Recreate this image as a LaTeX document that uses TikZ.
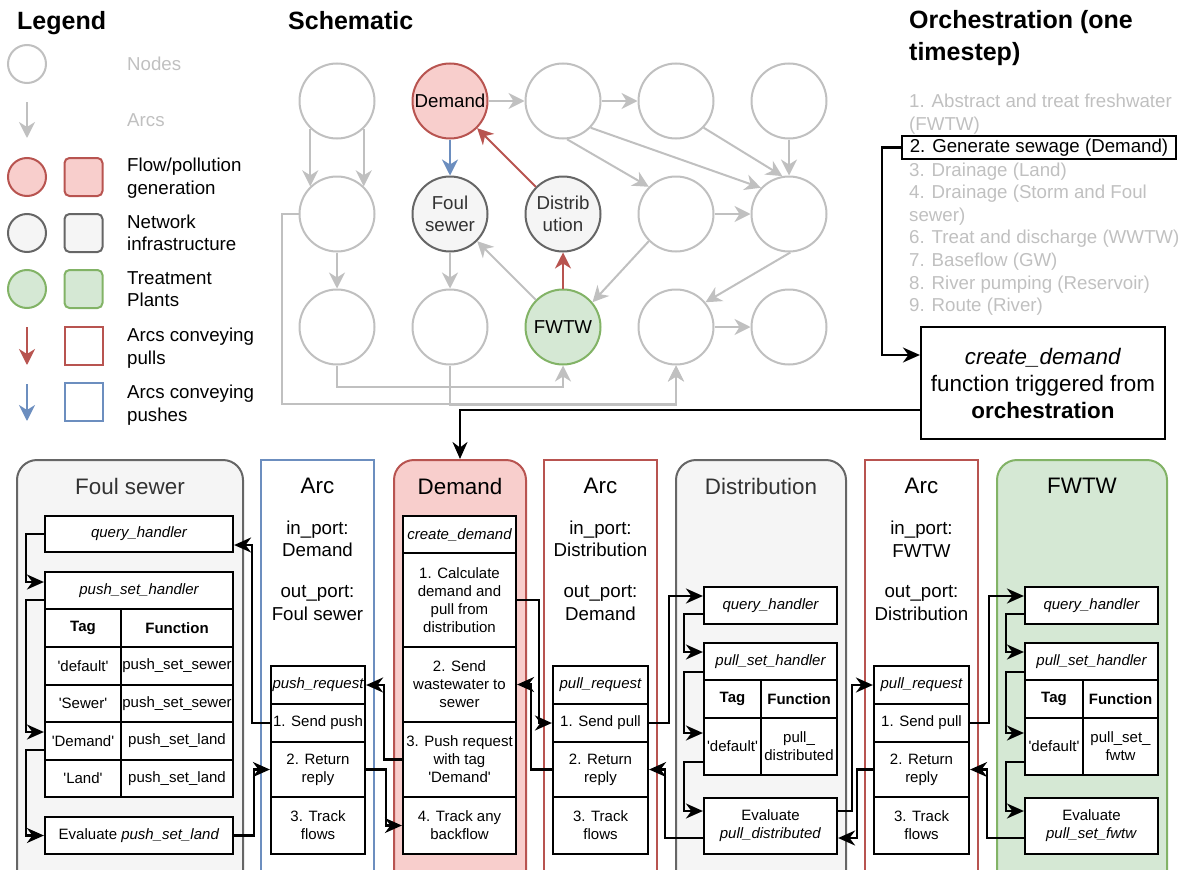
\documentclass[tikz,border=0pt]{standalone}
\usepackage{fontspec}
\setmainfont{Liberation Sans}
\usetikzlibrary{arrows.meta,calc}
\definecolor{lgray}{HTML}{C0C0C0}
\definecolor{rstroke}{HTML}{B85450}
\definecolor{rfill}{HTML}{F8CECC}
\definecolor{gstroke}{HTML}{666666}
\definecolor{gfill}{HTML}{F5F5F5}
\definecolor{gtext}{HTML}{333333}
\definecolor{vstroke}{HTML}{82B366}
\definecolor{vfill}{HTML}{D5E8D4}
\definecolor{bstroke}{HTML}{6C8EBF}
\newcommand\fBody{\fontsize{18.7pt}{22.5pt}\selectfont}
\newcommand\fHead{\fontsize{25pt}{32pt}\selectfont\bfseries}
\newcommand\fTitle{\fontsize{22.4pt}{27pt}\selectfont}
\newcommand\fSmall{\fontsize{15pt}{18pt}\selectfont}
\newcommand\sq{\textquotesingle}
\newcommand\cel[6]{\node[cell,minimum width=#4pt,minimum height=#5pt] (#1) at (#2,#3) {#6};}
\begin{document}
\begin{tikzpicture}[x=1pt,y=-1pt,
  txt/.style={inner sep=0pt,font=\fBody},
  ln/.style={inner sep=0pt,font=\fBody,text height=13.5pt,text depth=0pt,anchor=west},
  hd/.style={inner sep=0pt,font=\fHead,text height=18pt,text depth=0pt,anchor=west},
  ttl/.style={inner sep=0pt,font=\fTitle},
  snode/.style={circle,minimum size=75pt,inner sep=0pt,line width=2pt,draw=lgray,fill=white,font=\fBody,align=center},
  sred/.style={snode,draw=rstroke,fill=rfill},
  sgray/.style={snode,draw=gstroke,fill=gfill,text=gtext},
  sgreen/.style={snode,draw=vstroke,fill=vfill},
  lsq/.style={line width=2pt,minimum size=38pt,inner sep=0pt},
  tipG/.style={-{Stealth[length=16pt,width=16pt,inset=5pt]}},
  tipK/.style={-{Stealth[length=17pt,width=15pt,inset=5.5pt]}},
  garr/.style={tipG,draw=lgray,line width=2pt},
  rarr/.style={tipG,draw=rstroke,line width=2pt},
  barr/.style={tipG,draw=bstroke,line width=2pt},
  karr/.style={tipK,draw=black,line width=2.2pt},
  cell/.style={draw=black,fill=white,line width=2.2pt,font=\fSmall,align=center,inner sep=0pt},
  panel/.style={minimum height=460pt,anchor=north,line width=2pt,inner sep=0pt}
]
\path[use as bounding box] (0,0) rectangle (1189,870);
\clip (0,0) rectangle (1189,870);

% ---------------- Legend ----------------
\node[hd] (tleg) at (17,20) {Legend};
\node[snode,minimum size=38pt] (lc0) at (27,64) {};
\node[ln,text=lgray] (lt0) at (127,64) {Nodes};
\coordinate (la1) at (27,102); \coordinate (la2) at (27,138);
\draw[garr] (la1) -- (la2);
\node[ln,text=lgray] (lt1) at (127,120) {Arcs};
\node[sred,minimum size=38pt] (lc1) at (27,177) {};
\node[lsq,draw=rstroke,fill=rfill,rounded corners=5pt] (ls1) at (83.5,177) {};
\node[txt,anchor=west,align=left] (lt2) at (127,178) {Flow/pollution\\generation};
\node[sgray,minimum size=38pt] (lc2) at (27,233) {};
\node[lsq,draw=gstroke,fill=gfill,rounded corners=5pt] (ls2) at (83.5,233) {};
\node[txt,anchor=west,align=left] (lt3) at (127,233) {Network\\infrastructure};
\node[sgreen,minimum size=38pt] (lc3) at (27,289) {};
\node[lsq,draw=vstroke,fill=vfill,rounded corners=5pt] (ls3) at (83.5,289) {};
\node[txt,anchor=west,align=left] (lt4) at (127,289) {Treatment\\Plants};
\coordinate (lr1) at (27,327); \coordinate (lr2) at (27,365);
\draw[rarr] (lr1) -- (lr2);
\node[lsq,draw=rstroke,fill=white] (ls4) at (83.5,346) {};
\node[txt,anchor=west,align=left] (lt5) at (127,348) {Arcs conveying\\pulls};
\coordinate (lb1) at (27,384); \coordinate (lb2) at (27,421);
\draw[barr] (lb1) -- (lb2);
\node[lsq,draw=bstroke,fill=white] (ls5) at (83.5,402) {};
\node[txt,anchor=west,align=left] (lt6) at (127,405) {Arcs conveying\\pushes};

% ---------------- Schematic ----------------
\node[hd] (tsch) at (288,20) {Schematic};
\node[snode] (n11) at (337,101) {};
\node[sred] (sdem) at (450,101) {Demand};
\node[snode] (n13) at (563,101) {};
\node[snode] (n14) at (676,101) {};
\node[snode] (n15) at (789,101) {};
\node[snode] (n21) at (337,214) {};
\node[sgray] (sfoul) at (450,214) {Foul\\sewer};
\node[sgray] (sdist) at (563,214) {Distrib\\ution};
\node[snode] (n24) at (676,214) {};
\node[snode] (n25) at (789,214) {};
\node[snode] (n31) at (337,327) {};
\node[snode] (n32) at (450,327) {};
\node[sgreen] (sfwtw) at (563,327) {FWTW};
\node[snode] (n34) at (676,327) {};
\node[snode] (n35) at (789,327) {};

\draw[garr] (n11.-134) -- (n21.134);
\draw[garr] (n11.-46) -- (n21.46);
\draw[garr] (n21) -- (n31);
\draw[garr] (sdem) -- (n13);
\draw[garr] (n13) -- (n14);
\draw[barr] (sdem) -- (sfoul);
\draw[rarr] (sdist) -- (sdem);
\draw[rarr] (sfwtw) -- (sdist);
\draw[garr] (sfwtw) -- (sfoul);
\draw[garr] (sfoul) -- (n32);
\draw[garr] (n13.-84) -- (n24.135);
\draw[garr] (n13.-44) -- (n25.137);
\draw[garr] (n14.-44) -- (n25.100);
\draw[garr] (n15) -- (n25);
\draw[garr] (n24) -- (n25);
\draw[garr] (n24.-135) -- (sfwtw.40);
\draw[garr] (n25.-88) -- (n34.40);
\draw[garr] (n34) -- (n35);
\draw[garr] (n31.south) -- ++(0,21) -| (sfwtw.south);
\draw[garr] (n32.south) -- ++(0,39) -| (n34.south);
\draw[garr] (n21.west) -- ++(-17,0) -- ++(0,190) -| (n34.south);

% ---------------- Orchestration ----------------
\node[txt,font=\fHead,anchor=west,align=left] (torch) at (909,38.5) {Orchestration (one\\timestep)};
\foreach \t/\yy [count=\i] in {{1. Abstract and treat freshwater}/101,{(FWTW)}/124,{3. Drainage (Land)}/170,{4. Drainage (Storm and Foul}/192,{sewer)}/215,{6. Treat and discharge (WWTW)}/237,{7. Baseflow (GW)}/260,{8. River pumping (Reservoir)}/283,{9. Route (River)}/305}
  \node[ln,text=lgray] (ol\i) at (909,\yy) {\t};
\node[draw=black,fill=white,line width=2.2pt,font=\fBody,minimum width=274pt,minimum height=23pt,inner sep=0pt] (orch2) at (1039,147.5) {2. Generate sewage (Demand)};
\node[draw=black,fill=white,line width=2.2pt,font=\fTitle,align=center,minimum width=244pt,minimum height=112pt,inner sep=0pt] (cd) at (1043,383) {\textit{create\_demand}\\function triggered from\\\textbf{orchestration}};
\draw[karr] (orch2.west) -- ++(-19,0) |- (cd.west |- 0,355);

% ---------------- Panels ----------------
\node[panel,draw=gstroke,fill=gfill,rounded corners=20pt,minimum width=226pt] (pfoul) at (130,459) {};
\node[panel,draw=bstroke,fill=white,minimum width=113pt] (parc1) at (317.5,459) {};
\node[panel,draw=rstroke,fill=rfill,rounded corners=20pt,minimum width=132pt] (pdem) at (460,459) {};
\node[panel,draw=rstroke,fill=white,minimum width=113pt] (parc2) at (600.5,459) {};
\node[panel,draw=gstroke,fill=gfill,rounded corners=20pt,minimum width=170pt] (pdist) at (761,459) {};
\node[panel,draw=rstroke,fill=white,minimum width=113pt] (parc3) at (921.5,459) {};
\node[panel,draw=vstroke,fill=vfill,rounded corners=20pt,minimum width=170pt] (pfwtw) at (1082,459) {};
\draw[karr] (cd.west |- 0,410) -| (pdem.north);

\node[ttl,text=gtext] (tfoul) at (130,486) {Foul sewer};
\node[ttl] (tarc1) at (317.5,486) {Arc};
\node[ttl] (tdem) at (460,486) {Demand};
\node[ttl] (tarc2) at (600.5,486) {Arc};
\node[ttl,text=gtext] (tdist) at (761,486) {Distribution};
\node[ttl] (tarc3) at (921.5,486) {Arc};
\node[ttl] (tfwtw) at (1082,486) {FWTW};

\node[txt,align=center] (ip1) at (317.5,539) {in\_port:\\Demand};
\node[txt,align=center] (op1) at (317.5,603) {out\_port:\\Foul sewer};
\node[txt,align=center] (ip2) at (600.5,539) {in\_port:\\Distribution};
\node[txt,align=center] (op2) at (600.5,603) {out\_port:\\Demand};
\node[txt,align=center] (ip3) at (921.5,539) {in\_port:\\FWTW};
\node[txt,align=center] (op3) at (921.5,603) {out\_port:\\Distribution};

% Foul sewer cells
\cel{fqh}{139}{534}{188}{36}{\itshape query\_handler}
\cel{fpsh}{139}{590.5}{188}{37}{\itshape push\_set\_handler}
\cel{fht}{83}{628}{76}{38}{\bfseries Tag}
\cel{fhf}{177}{628}{112}{38}{\bfseries Function}
\cel{fr1t}{83}{666}{76}{38}{\sq default\sq}
\cel{fr1f}{177}{666}{112}{38}{push\_set\_sewer}
\cel{fr2t}{83}{703.5}{76}{37}{\sq Sewer\sq}
\cel{fr2f}{177}{703.5}{112}{37}{push\_set\_sewer}
\cel{fr3t}{83}{741}{76}{38}{\sq Demand\sq}
\cel{fr3f}{177}{741}{112}{38}{push\_set\_land}
\cel{fr4t}{83}{778.5}{76}{37}{\sq Land\sq}
\cel{fr4f}{177}{778.5}{112}{37}{push\_set\_land}
\cel{fev}{139}{835.5}{188}{37}{Evaluate \textit{push\_set\_land}}

% Arc 1
\cel{a1r0}{318}{685}{94}{38}{\makebox[0pt]{\itshape push\_request}}
\cel{a1r1}{318}{723}{94}{38}{1. Send push}
\cel{a1r2}{318}{769.5}{94}{55}{2. Return\\reply}
\cel{a1r3}{318}{825.5}{94}{57}{3. Track\\flows}

% Demand
\cel{dr0}{459.5}{534.5}{113}{37}{\itshape create\_demand}
\cel{dr1}{459.5}{600}{113}{94}{1. Calculate\\demand and\\pull from\\distribution}
\cel{dr2}{459.5}{684.5}{113}{75}{2. Send\\wastewater to\\sewer}
\cel{dr3}{459.5}{759.5}{113}{75}{\makebox[0pt]{3. Push request}\\with tag\\\sq Demand\sq}
\cel{dr4}{459.5}{825.5}{113}{57}{4. Track any\\backflow}

% Arc 2
\cel{a2r0}{600.5}{685}{95}{38}{\makebox[0pt]{\itshape pull\_request}}
\cel{a2r1}{600.5}{723}{95}{38}{1. Send pull}
\cel{a2r2}{600.5}{769.5}{95}{55}{2. Return\\reply}
\cel{a2r3}{600.5}{825.5}{95}{57}{3. Track\\flows}

% Distribution
\cel{dqh}{770.5}{605.5}{133}{37}{\itshape query\_handler}
\cel{dpsh}{770.5}{661.5}{133}{37}{\itshape pull\_set\_handler}
\cel{dht}{732.5}{699}{57}{38}{\bfseries Tag}
\cel{dhf}{799}{699}{76}{38}{\bfseries Function}
\cel{ddef}{732.5}{746.5}{57}{57}{\sq default\sq}
\cel{ddf}{799}{746.5}{76}{57}{pull\_\\distributed}
\cel{dev}{770.5}{826}{133}{56}{Evaluate\\\textit{pull\_distributed}}

% Arc 3
\cel{a3r0}{921.5}{685}{95}{38}{\makebox[0pt]{\itshape pull\_request}}
\cel{a3r1}{921.5}{723}{95}{38}{1. Send pull}
\cel{a3r2}{921.5}{769.5}{95}{55}{2. Return\\reply}
\cel{a3r3}{921.5}{825.5}{95}{57}{3. Track\\flows}

% FWTW
\cel{wqh}{1091.5}{605.5}{133}{37}{\itshape query\_handler}
\cel{wpsh}{1091.5}{661.5}{133}{37}{\itshape pull\_set\_handler}
\cel{wht}{1054}{699}{58}{38}{\bfseries Tag}
\cel{whf}{1120.5}{699}{75}{38}{\bfseries Function}
\cel{wdef}{1054}{746.5}{58}{57}{\sq default\sq}
\cel{wdf}{1120.5}{746.5}{75}{57}{pull\_set\_\\fwtw}
\cel{wev}{1091.5}{826}{133}{56}{Evaluate\\\textit{pull\_set\_fwtw}}

% ---------------- Connectors (bottom) ----------------
\draw[karr] (fqh.west) -- ++(-18,0) |- (fpsh.west |- 0,582);
\draw[karr] (fpsh.west |- 0,600) -- ++(-18,0) |- (fr3t.west |- 0,732);
\draw[karr] (fr3t.west |- 0,750) -- ++(-18,0) |- (fev.west);
\draw[karr] (fev.east) -- ++(20,0) |- (a1r2.west);
\draw[karr] (a1r1.west) -- ++(-18,0) |- (fqh.east |- 0,545);

\draw[karr] (dr3.west) -- ++(-18,0) |- (a1r0.east);
\draw[karr] (a1r2.east) -- ++(20,0) |- (dr4.west);

\draw[karr] (dr1.east) -- ++(22,0) |- (a2r1.west);
\draw[karr] (a2r2.west) -- ++(-21,0) |- (dr2.east);

\draw[karr] (a2r1.east) -- ++(20,0) |- (dqh.west |- 0,596);
\draw[karr] (dev.west |- 0,838) -- ++(-38,0) |- (a2r2.east);

\draw[karr] (dqh.west |- 0,614) -- ++(-19,0) |- (dpsh.west |- 0,652);
\draw[karr] (dpsh.west |- 0,672) -- ++(-19,0) |- (ddef.west |- 0,733);
\draw[karr] (ddef.west |- 0,762) -- ++(-19,0) |- (dev.west |- 0,811);
\draw[karr] (dev.east |- 0,811) -- ++(14,0) |- (a3r0.west);
\draw[karr] (a3r2.west) -- ++(-16,0) |- (dev.east |- 0,838);

\draw[karr] (a3r1.east) -- ++(19,0) |- (wqh.west |- 0,596);
\draw[karr] (wev.west |- 0,838) -- ++(-37,0) |- (a3r2.east);

\draw[karr] (wqh.west |- 0,614) -- ++(-18,0) |- (wpsh.west |- 0,652);
\draw[karr] (wpsh.west |- 0,672) -- ++(-18,0) |- (wdef.west |- 0,733);
\draw[karr] (wdef.west |- 0,762) -- ++(-18,0) |- (wev.west |- 0,811);
\end{tikzpicture}
\end{document}
